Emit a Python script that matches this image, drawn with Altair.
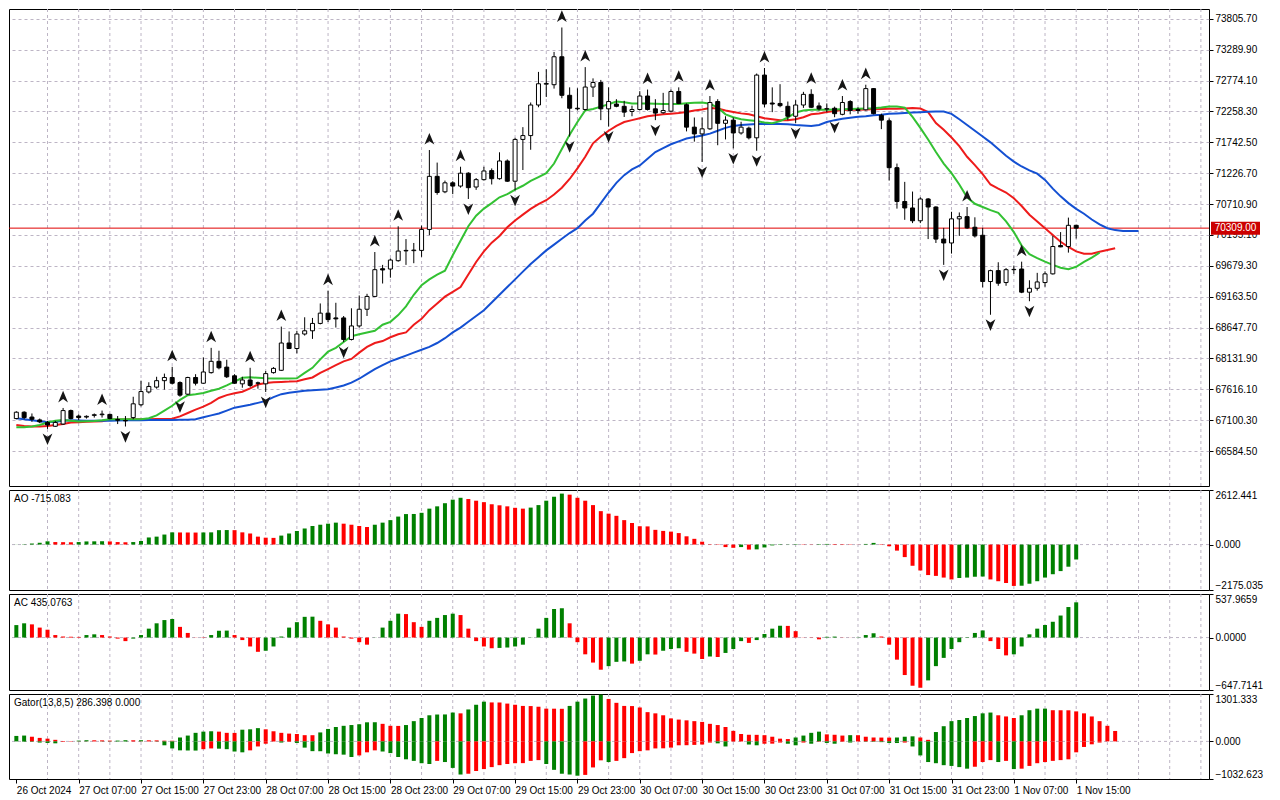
import json
import altair as alt
import pandas as pd

# ---------------- data ----------------
OPEN = [
    67128, 67234, 67153, 67105, 67063, 66999, 67036, 67261, 67170, 67153,
    67181, 67192, 67197, 67112, 67095, 67144, 67358, 67572, 67653, 67761,
    67814, 67729, 67535, 67814, 67718, 67895, 68084, 67987, 67842, 67708,
    67772, 67724, 67708, 67895, 67934, 68390, 68298, 68540, 68594, 68717,
    68889, 68809, 68809, 68449, 68675, 68954, 69168, 69631, 69626, 69765,
    69929, 69933, 69937, 70287, 71174, 70916, 71066, 71012, 71227, 70996,
    71119, 71270, 71135, 71431, 71093, 71791, 71855, 72366, 72714, 72705,
    73172, 72528, 72312, 72291, 72666, 72742, 72302, 72382, 72344, 72258,
    72291, 72516, 72302, 72237, 72263, 72592, 72371, 71996, 71883, 71968,
    72424, 72060, 72113, 71899, 71979, 71818, 72866, 72399, 72392, 72344,
    72178, 72366, 72544, 72350, 72298, 72312, 72210, 72424, 72291, 72286,
    72640, 72194, 72102, 71319, 70754, 70646, 70432, 70796, 70662, 70126,
    70061, 70464, 70501, 70324, 70190, 69417, 69599, 69400, 69615, 69626,
    69239, 69304, 69400, 69545, 70018, 70002, 70356,
]
HIGH = [
    67250, 67250, 67213, 67128, 67089, 67089, 67305, 67278, 67197, 67181,
    67213, 67261, 67208, 67170, 67170, 67492, 67761, 67734, 67826, 67879,
    67992, 67750, 67826, 67869, 68148, 68309, 68261, 68111, 67869, 67826,
    67976, 67745, 67922, 67987, 68664, 68583, 68594, 68820, 68809, 69051,
    69265, 69062, 68841, 68970, 69184, 69212, 69910, 69695, 69803, 70340,
    70126, 70061, 70351, 71614, 71404, 71103, 71093, 71335, 71243, 71146,
    71335, 71307, 71576, 71457, 71818, 71996, 72408, 72919, 72963, 73253,
    73661, 72661, 72645, 72999, 72811, 72785, 72661, 72463, 72436, 72355,
    72597, 72624, 72463, 72569, 72624, 72661, 72392, 72157, 72157, 72516,
    72463, 72178, 72157, 72086, 72005, 72892, 72984, 72661, 72714, 72424,
    72447, 72586, 72629, 72408, 72392, 72339, 72516, 72447, 72328, 72705,
    72650, 72221, 72141, 71388, 71082, 70920, 70824, 70812, 70674, 70313,
    70582, 70571, 70662, 70490, 70313, 69615, 69739, 69642, 69684, 69749,
    69438, 69562, 69587, 70179, 70243, 70485, 70367,
]
LOW = [
    67116, 67116, 67073, 67052, 66955, 66987, 67020, 67116, 67105, 67128,
    67144, 67144, 67116, 67036, 66995, 67116, 67331, 67547, 67627, 67611,
    67697, 67492, 67519, 67681, 67708, 67879, 67950, 67805, 67708, 67643,
    67653, 67627, 67572, 67879, 67922, 68288, 68217, 68514, 68459, 68701,
    68740, 68648, 68406, 68433, 68648, 68841, 69159, 69384, 69481, 69749,
    69695, 69723, 69829, 70190, 70867, 70893, 70877, 70985, 70796, 70948,
    71103, 71038, 71119, 71082, 70941, 71280, 71618, 72328, 72500, 72640,
    72479, 71839, 72274, 72274, 72500, 72113, 72005, 72328, 72166, 72178,
    72274, 72274, 72113, 72221, 72247, 72382, 71925, 71754, 71415, 71952,
    71694, 71791, 71641, 71871, 71791, 71602, 72328, 72247, 72328, 72113,
    72065, 72318, 72318, 72274, 72247, 72162, 72194, 72210, 72221, 72274,
    72210, 71963, 71103, 70635, 70448, 70393, 70393, 70126, 70061, 69695,
    69884, 70179, 70297, 70152, 69320, 68862, 69346, 69346, 69545, 69223,
    69088, 69265, 69330, 69534, 69990, 69900, 70135,
]
CLOSE = [
    67234, 67144, 67116, 67073, 67020, 67063, 67261, 67128, 67144, 67165,
    67192, 67202, 67128, 67100, 67089, 67374, 67579, 67664, 67761, 67814,
    67718, 67519, 67814, 67718, 67906, 68084, 67976, 67826, 67718, 67772,
    67681, 67718, 67879, 67966, 68390, 68298, 68540, 68594, 68717, 68889,
    68781, 68793, 68449, 68675, 68954, 69168, 69615, 69610, 69776, 69926,
    69937, 69942, 70287, 71174, 70904, 71066, 71012, 71227, 70985, 71119,
    71264, 71135, 71431, 71093, 71791, 71855, 72366, 72721, 72726, 73172,
    72528, 72312, 72302, 72666, 72742, 72302, 72424, 72344, 72247, 72291,
    72516, 72291, 72231, 72274, 72592, 72392, 71996, 71883, 71968, 72408,
    72060, 72113, 71899, 71996, 71818, 72866, 72382, 72382, 72355, 72178,
    72366, 72544, 72328, 72302, 72305, 72221, 72408, 72274, 72274, 72640,
    72221, 72113, 71319, 70754, 70646, 70432, 70796, 70662, 70126, 70061,
    70464, 70501, 70313, 70179, 69417, 69599, 69389, 69615, 69620, 69239,
    69304, 69410, 69545, 70002, 69996, 70356, 70309,
]

JAW = [
    67132, 67116, 67100, 67084, 67068, 67076, 67092, 67100, 67095, 67092,
    67090, 67090, 67092, 67095, 67098, 67100, 67100, 67102, 67102, 67104,
    67105, 67106, 67108, 67116, 67149, 67181, 67213, 67261, 67310, 67334,
    67358, 67390, 67423, 67487, 67535, 67559, 67575, 67591, 67600, 67608,
    67616, 67648, 67681, 67729, 67793, 67874, 67955, 68019, 68084, 68132,
    68180, 68229, 68277, 68325, 68390, 68470, 68567, 68648, 68744, 68841,
    68938, 69067, 69196, 69325, 69453, 69583, 69711, 69824, 69937, 70034,
    70131, 70227, 70308, 70437, 70550, 70727, 70904, 71066, 71194, 71291,
    71355, 71468, 71581, 71646, 71710, 71759, 71807, 71831, 71855, 71888,
    71936, 71984, 72017, 72033, 72041, 72049, 72049, 72049, 72049, 72044,
    72033, 72025, 72017, 72033, 72081, 72113, 72137, 72153, 72170, 72178,
    72194, 72202, 72218, 72226, 72234, 72242, 72247, 72253, 72258, 72258,
    72218, 72129, 72033, 71936, 71839, 71742, 71630, 71517, 71420, 71339,
    71275, 71219, 71114, 70969, 70840, 70727, 70630, 70550, 70453, 70372,
    70308, 70276, 70260, 70260, 70260,
]
TEETH = [
    67020, 67003, 66995, 66995, 67003, 67020, 67036, 67060, 67068, 67076,
    67079, 67084, 67110, 67112, 67114, 67116, 67116, 67118, 67120, 67120,
    67124, 67165, 67221, 67277, 67326, 67390, 67471, 67519, 67551, 67575,
    67632, 67697, 67721, 67734, 67740, 67745, 67753, 67785, 67814, 67890,
    67955, 68019, 68084, 68124, 68229, 68325, 68390, 68422, 68486, 68535,
    68567, 68696, 68793, 68938, 69051, 69164, 69244, 69325, 69534, 69744,
    69921, 70066, 70179, 70324, 70437, 70534, 70630, 70711, 70775, 70872,
    70985, 71130, 71307, 71501, 71726, 71839, 71936, 72017, 72081, 72113,
    72145, 72178, 72194, 72210, 72221, 72234, 72250, 72274, 72290, 72315,
    72307, 72274, 72250, 72226, 72210, 72178, 72145, 72129, 72113, 72113,
    72129, 72162, 72210, 72226, 72247, 72266, 72283, 72286, 72286, 72290,
    72295, 72299, 72302, 72302, 72307, 72315, 72307, 72247, 72065, 71952,
    71823, 71678, 71501, 71361, 71211, 71038, 70969, 70904, 70808, 70679,
    70534, 70421, 70308, 70195, 70082, 69994, 69921, 69881, 69881, 69913,
    69945, 69974,
]
LIPS = [
    66983, 66983, 66995, 67020, 67063, 67092, 67105, 67092, 67079, 67084,
    67089, 67100, 67116, 67116, 67116, 67116, 67116, 67132, 67181, 67261,
    67342, 67439, 67519, 67535, 67556, 67592, 67627, 67681, 67745, 67809,
    67817, 67809, 67801, 67798, 67798, 67798, 67801, 67890, 67975, 68116,
    68245, 68309, 68406, 68503, 68535, 68567, 68594, 68696, 68744, 68857,
    69002, 69196, 69357, 69453, 69534, 69599, 69857, 70098, 70340, 70517,
    70635, 70727, 70824, 70877, 70953, 71017, 71098, 71162, 71227, 71388,
    71630, 71871, 72081, 72274, 72299, 72339, 72379, 72424, 72411, 72392,
    72392, 72392, 72387, 72382, 72382, 72382, 72395, 72403, 72408, 72387,
    72323, 72210, 72162, 72129, 72113, 72097, 72073, 72060, 72097, 72157,
    72242, 72274, 72286, 72286, 72286, 72290, 72295, 72299, 72302, 72307,
    72312, 72323, 72339, 72339, 72323, 72166, 71984, 71791, 71581, 71388,
    71227, 71038, 70824, 70716, 70662, 70609, 70566, 70421, 70243, 70018,
    69873, 69808, 69749, 69696, 69647, 69623, 69663, 69744, 69816, 69900,
]

UP_FRACTALS = [6, 11, 20, 25, 30, 34, 40, 46, 49, 53, 57, 70, 73, 81, 85, 89,
               96, 102, 106, 109, 122, 129]
DOWN_FRACTALS = [4, 14, 21, 32, 42, 58, 64, 71, 76, 82, 88, 92, 95, 100, 105,
                 119, 125, 130]

AO = [
    5, 15, 50, 86, 155, 120, 115, 110, 120, 150,
    155, 160, 150, 120, 110, 120, 170, 340, 380, 480,
    585, 580, 578, 575, 580, 585, 690, 695, 690, 585,
    530, 380, 330, 320, 430, 530, 650, 770, 890, 950,
    1000, 1050, 1000, 950, 890, 840, 950, 1050, 1170, 1340,
    1460, 1465, 1520, 1720, 1830, 1980, 2150, 2240, 2180, 2100,
    2030, 1930, 1880, 1830, 1760, 1720, 1770, 1890, 2100, 2290,
    2440, 2390, 2240, 2100, 1890, 1600, 1480, 1376, 1170, 1032,
    877, 870, 705, 654, 620, 550, 396, 275, 138, 17,
    -17, -120, -155, -120, -240, -230, -138, -40, -20, 10,
    20, 15, 10, 20, 30, 25, 20, 15, 5, 30,
    80, 20, -80, -290, -600, -1015, -1240, -1460, -1500, -1580,
    -1670, -1600, -1580, -1540, -1530, -1670, -1755, -1840, -1980, -1970,
    -1875, -1755, -1580, -1420, -1270, -1060, -715.083,
]
AC = [
    154, 176, 163, 123, 97, 31, 13, 10, 8, 31,
    40, 31, 13, -13, -44, -13, 31, 110, 176, 216,
    229, 132, 57, -2, -4, 31, 84, 86, 31, -31,
    -110, -176, -163, -110, 13, 123, 190, 256, 258, 207,
    163, 123, 13, -13, -57, -88, 2, 123, 207, 295,
    290, 190, 132, 207, 243, 278, 295, 278, 110, -44,
    -110, -132, -128, -123, -110, -88, 2, 110, 243, 353,
    362, 176, -57, -207, -309, -397, -353, -300, -295, -322,
    -287, -207, -210, -163, -141, -132, -176, -198, -265, -234,
    -240, -190, -141, -44, -66, -31, 44, 110, 146, 144,
    79, 2, -3, -22, 9, 12, 2, 1, 3, 31,
    53, 13, -88, -273, -463, -595, -620, -529, -353, -251,
    -141, -57, 5, 57, 88, -44, -141, -220, -207, -110,
    40, 110, 155, 195, 272, 377, 435.0763,
]
GATOR_UP = [
    150, 160, 128, 96, 75, 43, 10, 8, 21, 32,
    30, 28, 21, 22, 32, 30, 32, 30, 28, 20,
    18, 107, 160, 235, 268, 278, 268, 235, 233, 321,
    332, 364, 332, 278, 235, 214, 203, 171, 170, 246,
    342, 396, 428, 449, 471, 524, 526, 482, 428, 425,
    449, 556, 642, 717, 738, 740, 792, 770, 877, 1006,
    1091, 1070, 1068, 1038, 1006, 974, 970, 952, 899, 898,
    895, 974, 1091, 1177, 1258, 1284, 1166, 1059, 974, 970,
    931, 803, 770, 717, 631, 599, 578, 556, 535, 482,
    449, 396, 289, 203, 182, 180, 171, 128, 75, 64,
    107, 160, 235, 268, 193, 182, 160, 171, 170, 128,
    107, 105, 104, 107, 128, 139, 107, 43, 257, 417,
    556, 588, 642, 696, 770, 792, 717, 685, 642, 717,
    856, 899, 900, 856, 855, 854, 824, 770, 685, 556,
    428, 286.398,
]
GATOR_DOWN = [
    0, -10, -10, -32, -43, -53, -10, -3, -3, -2,
    -2, -4, -5, -5, -5, -4, -3, -2, -5, -107,
    -193, -246, -250, -252, -214, -193, -200, -214, -278, -300,
    -246, -139, -64, -5, -32, -11, -43, -171, -268, -270,
    -332, -353, -364, -428, -385, -300, -246, -278, -321, -428,
    -492, -535, -599, -621, -535, -567, -728, -910, -888, -813,
    -760, -706, -653, -621, -599, -597, -535, -514, -621, -781,
    -888, -910, -942, -920, -715, -520, -567, -535, -460, -321,
    -268, -246, -193, -190, -171, -107, -105, -96, -86, -32,
    -54, -139, -5, -3, -86, -107, -64, -62, -32, -64,
    -107, -32, -64, -10, -43, -64, -10, -32, -3, -8,
    -12, -20, -43, -45, -32, -139, -385, -567, -599, -653,
    -674, -706, -749, -696, -567, -514, -567, -535, -760, -749,
    -674, -599, -567, -535, -514, -492, -300, -153, -80, -32,
]

PRICE_TICKS = [66584.5, 67100.3, 67616.1, 68131.9, 68647.7, 69163.5, 69679.3,
               70195.1, 70710.9, 71226.7, 71742.5, 72258.3, 72774.1, 73289.9,
               73805.7]
PRICE_RANGE = [66084.7, 73886.3]
AO_RANGE = [-2175.035, 2612.441]
AC_RANGE = [-647.7141, 537.9659]
GATOR_RANGE = [-1032.623, 1301.333]

TIME_LABELS = ["26 Oct 2024", "27 Oct 07:00", "27 Oct 15:00", "27 Oct 23:00",
               "28 Oct 07:00", "28 Oct 15:00", "28 Oct 23:00", "29 Oct 07:00",
               "29 Oct 15:00", "29 Oct 23:00", "30 Oct 07:00", "30 Oct 15:00",
               "30 Oct 23:00", "31 Oct 07:00", "31 Oct 15:00", "31 Oct 23:00",
               "1 Nov 07:00", "1 Nov 15:00"]
TICK_BARS = list(range(0, 8 * len(TIME_LABELS), 8))

# ---------------- style ----------------
W = 1200
H_MAIN, H_AO, H_AC, H_GATOR = 477, 100, 96, 85
X_DOMAIN = [-0.3, 152.4]
FONT = "Liberation Sans"
FS = 10
GRID = "#bdb5c5"
GREEN = "#008000"
RED = "#ff0000"
JAW_C, TEETH_C, LIPS_C = "#1450d2", "#ee1b1b", "#33c133"
UP_PATH = "M0,-1L0.8,0.9L0,0.35L-0.8,0.9Z"
DOWN_PATH = "M0,1L0.8,-0.9L0,-0.35L-0.8,-0.9Z"

xs = alt.Scale(domain=X_DOMAIN, nice=False, zero=False)


def xenc(axis=None):
    return alt.X("i:Q", scale=xs, axis=axis, title=None)


def updown(vals, absolute=False):
    out = ["g"]
    for a, b in zip(vals, vals[1:]):
        aa, bb = (abs(a), abs(b)) if absolute else (a, b)
        out.append("g" if bb > aa else ("r" if bb < aa else out[-1]))
    return out


grid_df = pd.DataFrame({"i": list(range(4, 153, 4))})
color_scale = alt.Scale(domain=["g", "r"], range=[GREEN, RED])

# ---------------- main price panel ----------------
candles = pd.DataFrame({"i": range(len(OPEN)), "o": OPEN, "h": HIGH, "l": LOW, "c": CLOSE})
candles["lo"] = candles[["o", "c"]].min(axis=1)
candles["hi"] = candles[["o", "c"]].max(axis=1)
candles["bull"] = candles["c"] >= candles["o"]
CURRENT = CLOSE[-1]

ys_main = alt.Scale(domain=PRICE_RANGE, nice=False, zero=False)
yaxis_main = alt.Axis(orient="right", values=PRICE_TICKS, format=".2f", grid=True,
                      gridDash=[3, 3], gridColor=GRID, tickSize=4, domain=False,
                      title=None, labelPadding=2)


def ymain(field):
    return alt.Y(field, scale=ys_main, axis=yaxis_main, title=None)


main_grid = alt.Chart(grid_df).mark_rule(color=GRID, strokeDash=[3, 3]).encode(x=xenc())
wicks = alt.Chart(candles).mark_rule(color="black", strokeWidth=1, clip=True).encode(
    x=xenc(), y=ymain("l:Q"), y2="h:Q")
bodies = alt.Chart(candles).mark_bar(size=4, stroke="black", strokeWidth=1, clip=True).encode(
    x=xenc(), y=ymain("lo:Q"), y2="hi:Q",
    fill=alt.condition("datum.bull", alt.value("white"), alt.value("black")))


def line_layer(vals, color):
    df = pd.DataFrame({"i": range(len(vals)), "v": vals})
    return alt.Chart(df).mark_line(color=color, strokeWidth=2, clip=True).encode(
        x=xenc(), y=ymain("v:Q"))


jaw = line_layer(JAW, JAW_C)
teeth = line_layer(TEETH, TEETH_C)
lips = line_layer(LIPS, LIPS_C)

price_df = pd.DataFrame({"p": [CURRENT], "t": [f"{CURRENT:.2f}"]})
price_line = alt.Chart(price_df).mark_rule(color="#e00000", strokeWidth=1).encode(y=ymain("p:Q"))

up_fr = alt.Chart(candles[candles["i"].isin(UP_FRACTALS)]).mark_point(
    shape=UP_PATH, filled=True, size=150, color="#151515", opacity=1, yOffset=-11, clip=True
).encode(x=xenc(), y=ymain("h:Q"))
down_fr = alt.Chart(candles[candles["i"].isin(DOWN_FRACTALS)]).mark_point(
    shape=DOWN_PATH, filled=True, size=150, color="#151515", opacity=1, yOffset=10, clip=True
).encode(x=xenc(), y=ymain("l:Q"))

price_box = alt.Chart(price_df).mark_bar(orient="horizontal", size=13, color="#cc0000").encode(
    x=alt.value(W + 2), x2=alt.value(W + 51), y=ymain("p:Q"))
price_txt = alt.Chart(price_df).mark_text(color="white", font=FONT, fontSize=FS, align="center",
                                          baseline="middle").encode(
    x=alt.value(W + 26.5), y=ymain("p:Q"), text="t:N")

main = alt.layer(main_grid, price_line, teeth, jaw, lips, wicks, bodies, up_fr, down_fr,
                 price_box, price_txt).properties(width=W, height=H_MAIN)


# ---------------- indicator panels ----------------
def panel(series_list, rng, fmt, title, height, xaxis=None):
    yscale = alt.Scale(domain=rng, nice=False, zero=False)
    yaxis = alt.Axis(orient="right", values=[rng[0], 0, rng[1]], format=fmt, grid=False,
                     tickSize=4, domain=False, labelFlush=True, title=None, labelPadding=2)
    layers = [
        alt.Chart(grid_df).mark_rule(color=GRID, strokeDash=[3, 3]).encode(x=xenc(xaxis)),
        alt.Chart(pd.DataFrame({"z": [0]})).mark_rule(color=GRID, strokeDash=[3, 3]).encode(
            y=alt.Y("z:Q", scale=yscale, axis=yaxis, title=None)),
    ]
    for vals, absolute in series_list:
        df = pd.DataFrame({"i": range(len(vals)), "v": vals, "col": updown(vals, absolute)})
        layers.append(alt.Chart(df).mark_bar(size=4, clip=True).encode(
            x=xenc(xaxis), y=alt.Y("v:Q", scale=yscale, axis=yaxis, title=None),
            y2=alt.datum(0),
            color=alt.Color("col:N", scale=color_scale, legend=None)))
    layers.append(alt.Chart(pd.DataFrame({"t": [title]})).mark_text(
        align="left", baseline="middle", font=FONT, fontSize=FS, color="black").encode(
        x=alt.value(5), y=alt.value(9), text="t:N"))
    return alt.layer(*layers).properties(width=W, height=height)


label_expr = f"{json.dumps(TIME_LABELS)}[indexof({json.dumps(TICK_BARS)}, datum.value)]"
bottom_axis = alt.Axis(orient="bottom", values=TICK_BARS, labelExpr=label_expr, labelAlign="left",
                       labelPadding=2, tickSize=4, grid=False, domain=False, title=None,
                       labelOverlap=False, labelFont=FONT, labelFontSize=FS)

ao = panel([(AO, False)], AO_RANGE, ".3f", f"AO {AO[-1]:.3f}", H_AO)
ac = panel([(AC, False)], AC_RANGE, ".4f", f"AC {AC[-1]:.4f}", H_AC)
gator = panel([(GATOR_UP, True), (GATOR_DOWN, True)], GATOR_RANGE, ".3f",
              f"Gator(13,8,5) {GATOR_UP[-1]:.3f} {0:.3f}", H_GATOR, xaxis=bottom_axis)

chart = alt.vconcat(main, ao, ac, gator, spacing=2).properties(
    padding={"left": 0, "top": 0, "right": 0, "bottom": 0},
    background="white",
).configure_view(stroke="black", strokeWidth=1).configure_axis(
    labelFont=FONT, labelFontSize=FS, labelColor="black", tickColor="black", tickWidth=1
)

chart.save("out.html", embed_options={"renderer": "svg", "actions": False})
